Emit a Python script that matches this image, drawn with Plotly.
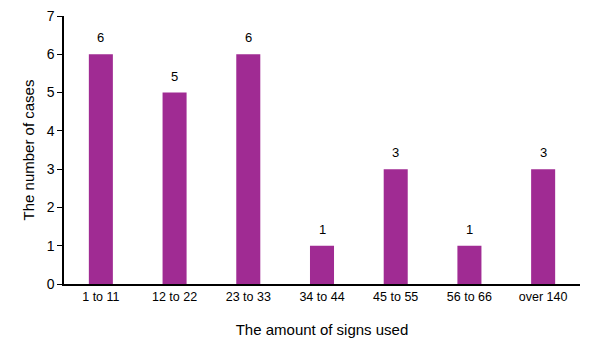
import plotly.graph_objects as go

categories = ["1 to 11", "12 to 22", "23 to 33", "34 to 44", "45 to 55", "56 to 66", "over 140"]
cases = [6, 5, 6, 1, 3, 1, 3]
y_ticks = [0, 1, 2, 3, 4, 5, 6, 7]

font = "Liberation Sans, Arial, sans-serif"

fig = go.Figure(go.Bar(
    x=categories, y=cases,
    marker=dict(color="#A02B93", line=dict(width=0)),
    width=0.326,
))

for c, v in zip(categories, cases):
    fig.add_annotation(x=c, y=v, text=str(v), showarrow=False,
                       yanchor="bottom", yshift=7,
                       font=dict(family=font, size=13, color="#000000"))

fig.update_layout(
    width=591, height=350,
    margin=dict(l=56, r=19, t=8, b=74, autoexpand=False),
    paper_bgcolor="white", plot_bgcolor="white",
    font=dict(family=font, size=12, color="#000000"),
    showlegend=False,
)
fig.update_xaxes(
    showline=True, linecolor="#000000", linewidth=1.5,
    ticks="", showgrid=False, automargin=False,
    tickfont=dict(size=12.5),
    title=dict(text="The amount of signs used", font=dict(size=15), standoff=22),
)
fig.update_yaxes(
    range=[0, 7], tickvals=y_ticks,
    showline=True, linecolor="#000000", linewidth=1.5,
    ticks="outside", ticklen=5, tickcolor="#000000",
    showgrid=False, zeroline=False, automargin=False,
    ticklabeloverflow="allow",
    tickfont=dict(size=14),
    title=dict(text="The number of cases", font=dict(size=15), standoff=8),
)

fig.write_html("out.html")
